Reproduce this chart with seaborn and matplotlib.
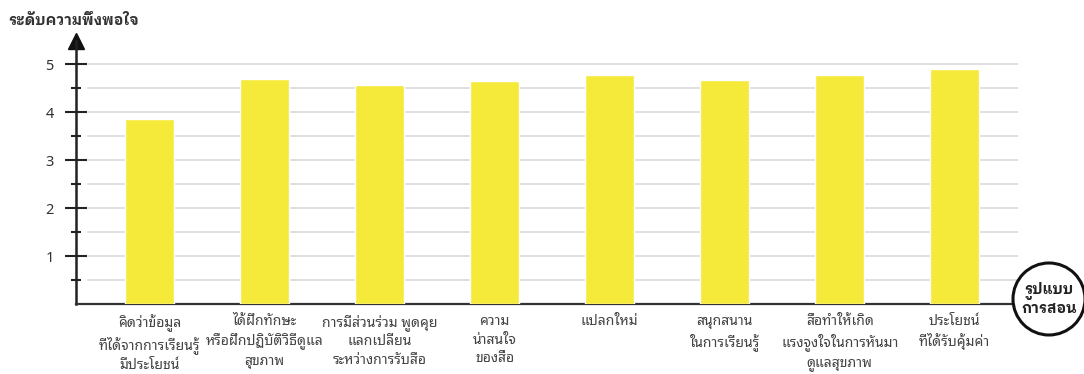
import matplotlib
matplotlib.use('Agg')
import matplotlib.pyplot as plt
from matplotlib.patches import Circle
import seaborn as sns
import pandas as pd

# Survey results: satisfaction with the teaching media
categories = [
    'คิดว่าข้อมูล\nที่ได้จากการเรียนรู้\nมีประโยชน์',
    'ได้ฝึกทักษะ\nหรือฝึกปฏิบัติวิธีดูแล\nสุขภาพ',
    'การมีส่วนร่วม พูดคุย\nแลกเปลี่ยน\nระหว่างการรับสื่อ',
    'ความ\nน่าสนใจ\nของสื่อ',
    'แปลกใหม่',
    'สนุกสนาน\nในการเรียนรู้',
    'สื่อทำให้เกิด\nแรงจูงใจในการหันมา\nดูแลสุขภาพ',
    'ประโยชน์\nที่ได้รับคุ้มค่า',
]
scores = [3.85, 4.68, 4.57, 4.64, 4.78, 4.66, 4.78, 4.90]
y_ticks = [1, 2, 3, 4, 5]
y_minor = [0.5, 1.5, 2.5, 3.5, 4.5]
y_title = 'ระดับความพึงพอใจ'
x_title = 'รูปแบบ\nการสอน'

df = pd.DataFrame({'category': categories, 'score': scores})

sns.set_theme(style='white')
plt.rcParams['font.family'] = ['Noto Sans Thai Looped', 'DejaVu Sans']
bold_font = ['IBM Plex Sans Thai Looped', 'Noto Sans Thai Looped', 'DejaVu Sans']

fig = plt.figure(figsize=(10.84, 3.74), dpi=100)
ax = fig.add_axes([76 / 1084, 70 / 374, 942 / 1084, 263 / 374])

sns.barplot(data=df, x='category', y='score', color='#f5e93a',
            saturation=1, width=0.43, ax=ax, zorder=3)

# light grid every half point, starting a bit right of the axis
for v in y_minor + y_ticks:
    ax.axhline(v, xmin=12 / 942, xmax=1, color='#d9d9d9', lw=1.2, zorder=1)

ax.set_xlim(-0.64, 7.55)
ax.set_ylim(0, 5.48)
ax.set_yticks(y_ticks)
ax.set_yticks(y_minor, minor=True)
ax.set_yticklabels([str(t) for t in y_ticks], fontsize=10.5, color='#333333')
ax.tick_params(axis='y', which='major', direction='inout', length=16,
               width=1.5, color='#222222', pad=8, left=True)
ax.tick_params(axis='y', which='minor', direction='inout', length=7,
               width=1.5, color='#222222', left=True)
ax.tick_params(axis='x', length=0, pad=7)
for lbl in ax.get_xticklabels():
    lbl.set_fontsize(10)
    lbl.set_color('#444444')
    lbl.set_linespacing(1.35)
ax.set_xlabel('')
ax.set_ylabel('')

sns.despine(ax=ax, top=True, right=True)
ax.spines['left'].set_linewidth(1.8)
ax.spines['left'].set_color('#222222')
ax.spines['bottom'].set_linewidth(1.6)
ax.spines['bottom'].set_color('#333333')

# arrow head on the y axis
ax.plot([0], [1], marker='^', markersize=11, color='#111111',
        transform=ax.transAxes, clip_on=False)

fig.text(8 / 1084, 1 - 21 / 374, y_title, fontsize=10.5, fontweight='bold',
         family=bold_font, color='#333333', va='center', ha='left')

# circled x-axis title at the end of the baseline
fig.add_artist(Circle((1049, 374 - 299), 36, transform=None, fc='white',
                      ec='#111111', lw=2.2, zorder=5))
fig.text(1049 / 1084, 1 - 299 / 374, x_title, fontsize=10.5,
         fontweight='bold', family=bold_font, color='#222222',
         ha='center', va='center', linespacing=1.2, zorder=6)

fig.savefig('out.png', dpi=100)
